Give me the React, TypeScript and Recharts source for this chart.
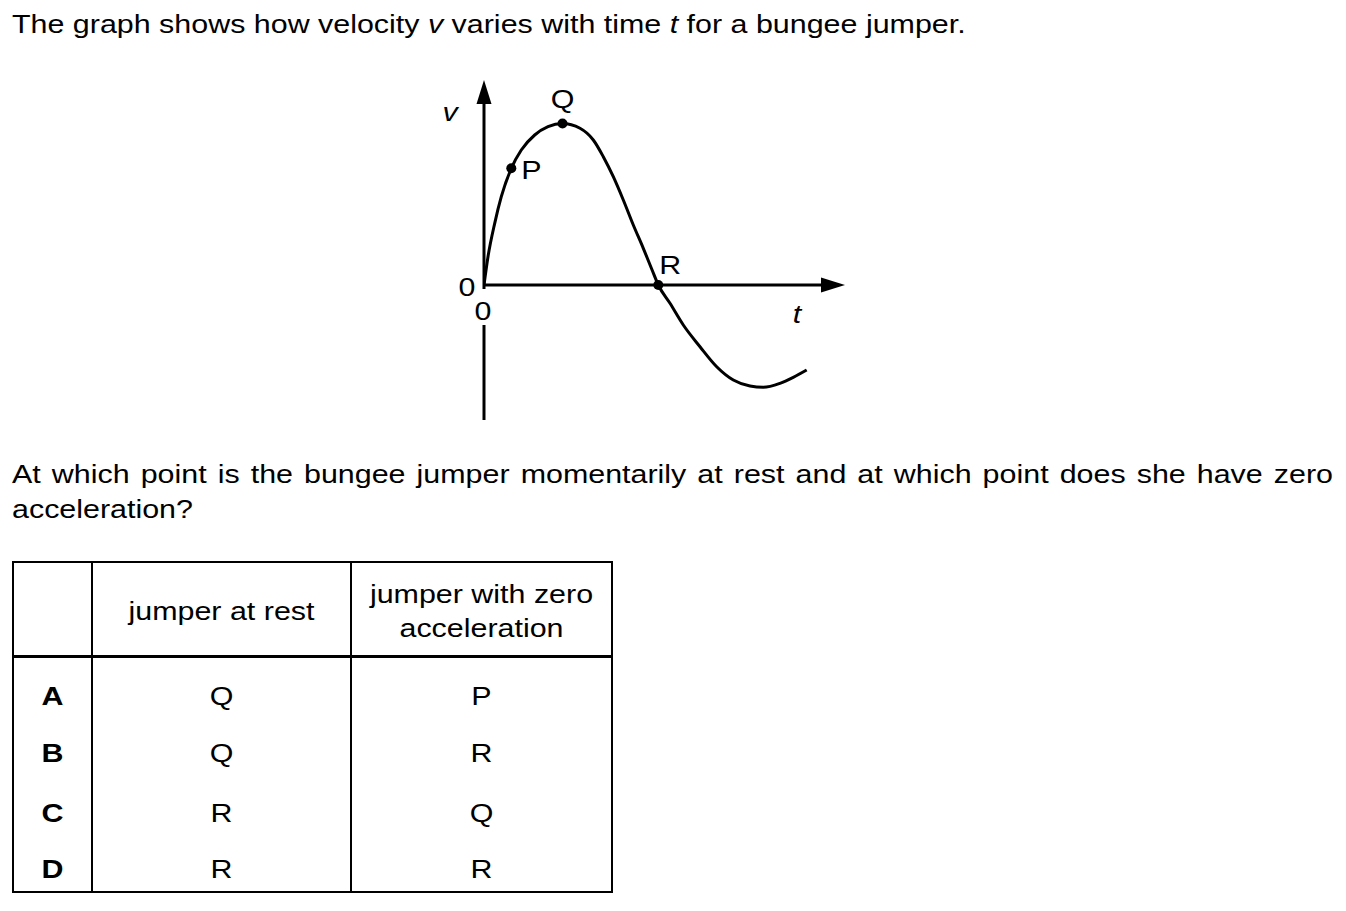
import { ComposedChart, Line, Scatter, XAxis, YAxis, ReferenceLine, ReferenceDot } from "recharts";

// velocity curve (arbitrary units, t right, v up)
const time = [
  0, 0.4, 1.07, 1.73, 2.73, 3.73, 5.07, 6.4, 7.85, 9.6, 10.93, 11.93, 12.93, 13.93,
  14.93, 15.93, 16.77, 17.43, 18.6, 19.93, 21.6, 23.27, 24.93, 26.6, 27.93, 29.6, 30.93, 32.27,
];
const velocity = [
  0, 2.83, 6.17, 8.83, 11.67, 13.5, 15.0, 15.83, 16.15, 15.67, 14.5, 12.83, 10.83, 8.5,
  6.0, 3.67, 1.6, 0, -1.83, -4.0, -6.17, -8.17, -9.5, -10.1, -10.23, -9.83, -9.23, -8.5,
];

const pointNames = ["P", "Q", "R"];
const pointTimes = [2.73, 7.85, 17.43];
const pointVelocities = [11.67, 16.15, 0];

const tRange = [0, 36.1];
const vRange = [-13.5, 20.5];

const options = ["A", "B", "C", "D"];
const atRest = ["Q", "Q", "R", "R"];
const zeroAccel = ["P", "R", "Q", "R"];

const FONT = "'Liberation Sans', Arial, sans-serif";
const SX = 1.17;

const curve = time.map((t, i) => ({ t, v: velocity[i] }));
const points = pointNames.map((name, i) => ({ name, t: pointTimes[i], v: pointVelocities[i] }));

// where each point's letter sits relative to its dot
const labelOffset: Record<string, [number, number]> = { P: [20, 2], Q: [0, -25], R: [12, -20] };

// axis annotations in data units
const axisText = [
  { text: "v", t: -3.4, v: 17.3, italic: true },
  { text: "0", t: -1.7, v: -0.2, italic: false },
  { text: "0", t: -0.1, v: -2.6, italic: false },
  { text: "t", t: 31.3, v: -2.9, italic: true },
];

const SvgText = ({ x, y, children, italic }: any) => (
  <text
    transform={`translate(${x} ${y}) scale(${SX} 1)`}
    textAnchor="middle"
    dominantBaseline="central"
    fontFamily={FONT}
    fontSize={26}
    fontStyle={italic ? "italic" : "normal"}
    fill="#000"
  >
    {children}
  </text>
);

const arrow = (head: boolean) => (p: any) => {
  const x1 = Number(p.x1), y1 = Number(p.y1), x2 = Number(p.x2), y2 = Number(p.y2);
  const len = Math.hypot(x2 - x1, y2 - y1) || 1;
  const ux = (x2 - x1) / len, uy = (y2 - y1) / len;
  const hl = 24, hw = 7.5;
  const bx = x2 - ux * hl, by = y2 - uy * hl;
  return (
    <g>
      <line x1={x1} y1={y1} x2={head ? bx + ux * 2 : x2} y2={head ? by + uy * 2 : y2} stroke="#000" strokeWidth={3} />
      {head && (
        <polygon
          points={`${x2},${y2} ${bx - uy * hw},${by + ux * hw} ${bx + uy * hw},${by - ux * hw}`}
          fill="#000"
        />
      )}
    </g>
  );
};

const PointDot = (p: any) => {
  const [dx, dy] = labelOffset[p.payload.name] || [0, 0];
  return (
    <g>
      <circle cx={p.cx} cy={p.cy} r={5} fill="#000" />
      <SvgText x={p.cx + dx} y={p.cy + dy}>{p.payload.name}</SvgText>
    </g>
  );
};

const Txt = ({ left, top, width, center, bold, children }: any) => (
  <div
    style={{
      position: "absolute",
      left,
      top,
      width,
      height: 30,
      lineHeight: "30px",
      fontSize: 26,
      whiteSpace: "nowrap",
      textAlign: center ? "center" : "left",
      fontWeight: bold ? "bold" : "normal",
      transform: `scaleX(${SX})`,
      transformOrigin: center ? "center" : "left",
    }}
  >
    {children}
  </div>
);

const VelocityGraph = () => (
  <div style={{ position: "absolute", left: 434, top: 60 }}>
    <ComposedChart width={440} height={380} data={curve} margin={{ top: 20, right: 29, bottom: 20, left: 50 }}>
      <XAxis type="number" dataKey="t" domain={tRange} hide allowDataOverflow />
      <YAxis type="number" domain={vRange} hide allowDataOverflow />
      <ReferenceLine segment={[{ x: 0, y: -0.4 }, { x: 0, y: vRange[1] }]} shape={arrow(true)} />
      <ReferenceLine segment={[{ x: 0, y: vRange[0] }, { x: 0, y: -4 }]} shape={arrow(false)} />
      <ReferenceLine segment={[{ x: 0, y: 0 }, { x: tRange[1], y: 0 }]} shape={arrow(true)} />
      <Line type="monotone" dataKey="v" stroke="#000" strokeWidth={3} dot={false} isAnimationActive={false} />
      <Scatter data={points} dataKey="v" shape={PointDot} isAnimationActive={false} />
      {axisText.map((a, i) => (
        <ReferenceDot
          key={i}
          x={a.t}
          y={a.v}
          r={0}
          ifOverflow="visible"
          shape={(p: any) => <SvgText x={p.cx} y={p.cy} italic={a.italic}>{a.text}</SvgText>}
        />
      ))}
    </ComposedChart>
  </div>
);

const rowTops = [681, 738, 798, 854];

export default function App() {
  return (
    <div
      style={{
        position: "absolute",
        left: 0,
        top: 0,
        width: 1346,
        height: 911,
        background: "#fff",
        color: "#000",
        fontFamily: FONT,
      }}
    >
      <Txt left={12} top={9}>
        The graph shows how velocity <i>v</i> varies with time <i>t</i> for a bungee jumper.
      </Txt>

      <VelocityGraph />

      <div
        style={{
          position: "absolute",
          left: 12,
          top: 459,
          width: 1321 / SX,
          height: 30,
          lineHeight: "30px",
          fontSize: 26,
          textAlign: "justify",
          textAlignLast: "justify",
          transform: `scaleX(${SX})`,
          transformOrigin: "left",
        }}
      >
        At which point is the bungee jumper momentarily at rest and at which point does she have zero
      </div>
      <Txt left={12} top={494}>acceleration?</Txt>

      {/* answer table */}
      <div
        style={{
          position: "absolute",
          left: 12,
          top: 561,
          width: 601,
          height: 332,
          border: "2px solid #000",
          boxSizing: "border-box",
        }}
      />
      <div style={{ position: "absolute", left: 91, top: 561, width: 2, height: 332, background: "#000" }} />
      <div style={{ position: "absolute", left: 350, top: 561, width: 2, height: 332, background: "#000" }} />
      <div style={{ position: "absolute", left: 12, top: 655, width: 601, height: 3, background: "#000" }} />

      <Txt left={93} top={596} width={257} center>jumper at rest</Txt>
      <Txt left={352} top={579} width={259} center>jumper with zero</Txt>
      <Txt left={352} top={613} width={259} center>acceleration</Txt>

      {options.map((o, i) => (
        <div key={o}>
          <Txt left={14} top={rowTops[i]} width={77} center bold>{o}</Txt>
          <Txt left={93} top={rowTops[i]} width={257} center>{atRest[i]}</Txt>
          <Txt left={352} top={rowTops[i]} width={259} center>{zeroAccel[i]}</Txt>
        </div>
      ))}
    </div>
  );
}
